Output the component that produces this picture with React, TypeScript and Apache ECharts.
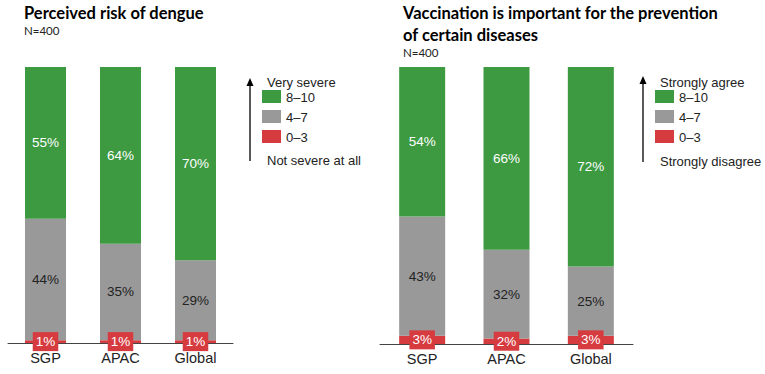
import React, { useEffect, useRef } from "react";
import * as echarts from "echarts";

const categories = ["SGP", "APAC", "Global"];

// Perceived risk of dengue (share of respondents, %)
const riskLow = [1, 1, 1];
const riskMid = [44, 35, 29];
const riskHigh = [55, 64, 70];

// Vaccination is important for the prevention of certain diseases (%)
const vaccLow = [3, 2, 3];
const vaccMid = [43, 32, 25];
const vaccHigh = [54, 66, 72];

const bandNames = ["0–3", "4–7", "8–10"];

const GREEN = "#3d9a41";
const GREY = "#999999";
const RED = "#d63b3f";
const SANS = "'Liberation Sans', Arial, sans-serif";
const TITLE_FONT = "Lato, 'Open Sans', sans-serif";

function stackSeries(low: number[], mid: number[], high: number[], idx: number, width: number) {
  const stack = "s" + idx;
  const common = {
    type: "bar" as const,
    stack,
    xAxisIndex: idx,
    yAxisIndex: idx,
    barWidth: width,
  };
  return [
    {
      ...common,
      name: bandNames[0],
      data: low,
      itemStyle: { color: RED },
      label: {
        show: true,
        position: "inside",
        formatter: "{c}%",
        color: "#ffffff",
        fontFamily: SANS,
        fontSize: 13.5,
        backgroundColor: RED,
        padding: [3, 3, 2, 3],
      },
    },
    {
      ...common,
      name: bandNames[1],
      data: mid,
      itemStyle: { color: GREY },
      label: {
        show: true,
        position: "inside",
        formatter: "{c}%",
        color: "#222222",
        fontFamily: SANS,
        fontSize: 13.5,
      },
    },
    {
      ...common,
      name: bandNames[2],
      data: high,
      itemStyle: { color: GREEN },
      label: {
        show: true,
        position: "inside",
        formatter: "{c}%",
        color: "#ffffff",
        fontFamily: SANS,
        fontSize: 13.5,
      },
    },
  ];
}

function legendBlock(x: number, topLabel: string, bottomLabel: string, yTop: number, yBottom: number) {
  const swatchX = x + 12;
  const swatches = [
    { color: GREEN, text: bandNames[2], y: 90 },
    { color: GREY, text: bandNames[1], y: 110 },
    { color: RED, text: bandNames[0], y: 130 },
  ];
  const font = `13px ${SANS}`;
  const items: any[] = [
    {
      type: "line",
      shape: { x1: x, y1: yTop + 6, x2: x, y2: yBottom },
      style: { stroke: "#000", lineWidth: 1.3 },
    },
    {
      type: "polygon",
      shape: { points: [[x - 3.5, yTop + 8], [x + 3.5, yTop + 8], [x, yTop]] },
      style: { fill: "#000" },
    },
    {
      type: "text",
      x: x + 17,
      y: 82,
      style: { text: topLabel, font, fill: "#222", verticalAlign: "middle" },
    },
    {
      type: "text",
      x: x + 17,
      y: yBottom - 1,
      style: { text: bottomLabel, font, fill: "#222", verticalAlign: "middle" },
    },
  ];
  swatches.forEach((s) => {
    items.push({
      type: "rect",
      shape: { x: swatchX, y: s.y, width: 19, height: 13 },
      style: { fill: s.color },
    });
    items.push({
      type: "text",
      x: swatchX + 24,
      y: s.y + 7,
      style: { text: s.text, font, fill: "#222", verticalAlign: "middle" },
    });
  });
  return items;
}

export default function App() {
  const ref = useRef<HTMLDivElement>(null);

  useEffect(() => {
    if (!ref.current) return;
    const chart = echarts.init(ref.current, undefined, { renderer: "svg" });

    const xAxisCommon = {
      type: "category" as const,
      data: categories,
      axisTick: { show: false },
      axisLine: { lineStyle: { color: "#444", width: 1 } },
      axisLabel: { color: "#222", fontFamily: SANS, fontSize: 14.5, margin: 7 },
    };
    const yAxisCommon = { type: "value" as const, min: 0, max: 100, show: false };

    const titleFont = `bold 16.5px ${TITLE_FONT}`;
    const subFont = `11.5px ${TITLE_FONT}`;

    chart.setOption({
      animation: false,
      grid: [
        { left: 8, width: 225, top: 67, bottom: 31 },
        { left: 380, width: 253, top: 67, bottom: 30 },
      ],
      xAxis: [
        { ...xAxisCommon, gridIndex: 0 },
        { ...xAxisCommon, gridIndex: 1 },
      ],
      yAxis: [
        { ...yAxisCommon, gridIndex: 0 },
        { ...yAxisCommon, gridIndex: 1 },
      ],
      series: [
        ...stackSeries(riskLow, riskMid, riskHigh, 0, 41),
        ...stackSeries(vaccLow, vaccMid, vaccHigh, 1, 46),
      ],
      graphic: [
        {
          type: "text",
          x: 24,
          y: 13,
          style: { text: "Perceived risk of dengue", font: titleFont, fill: "#000", verticalAlign: "middle" },
        },
        {
          type: "text",
          x: 24,
          y: 30,
          style: { text: "N=400", font: subFont, fill: "#222", verticalAlign: "middle" },
        },
        {
          type: "text",
          x: 403,
          y: 13,
          style: {
            text: "Vaccination is important for the prevention",
            font: titleFont,
            fill: "#000",
            verticalAlign: "middle",
          },
        },
        {
          type: "text",
          x: 403,
          y: 35,
          style: { text: "of certain diseases", font: titleFont, fill: "#000", verticalAlign: "middle" },
        },
        {
          type: "text",
          x: 403,
          y: 52,
          style: { text: "N=400", font: subFont, fill: "#222", verticalAlign: "middle" },
        },
        ...legendBlock(250, "Very severe", "Not severe at all", 78, 161),
        ...legendBlock(643, "Strongly agree", "Strongly disagree", 76, 162),
      ],
    });

    return () => chart.dispose();
  }, []);

  return <div ref={ref} style={{ width: 765, height: 374, position: "absolute", left: 0, top: 0 }} />;
}
